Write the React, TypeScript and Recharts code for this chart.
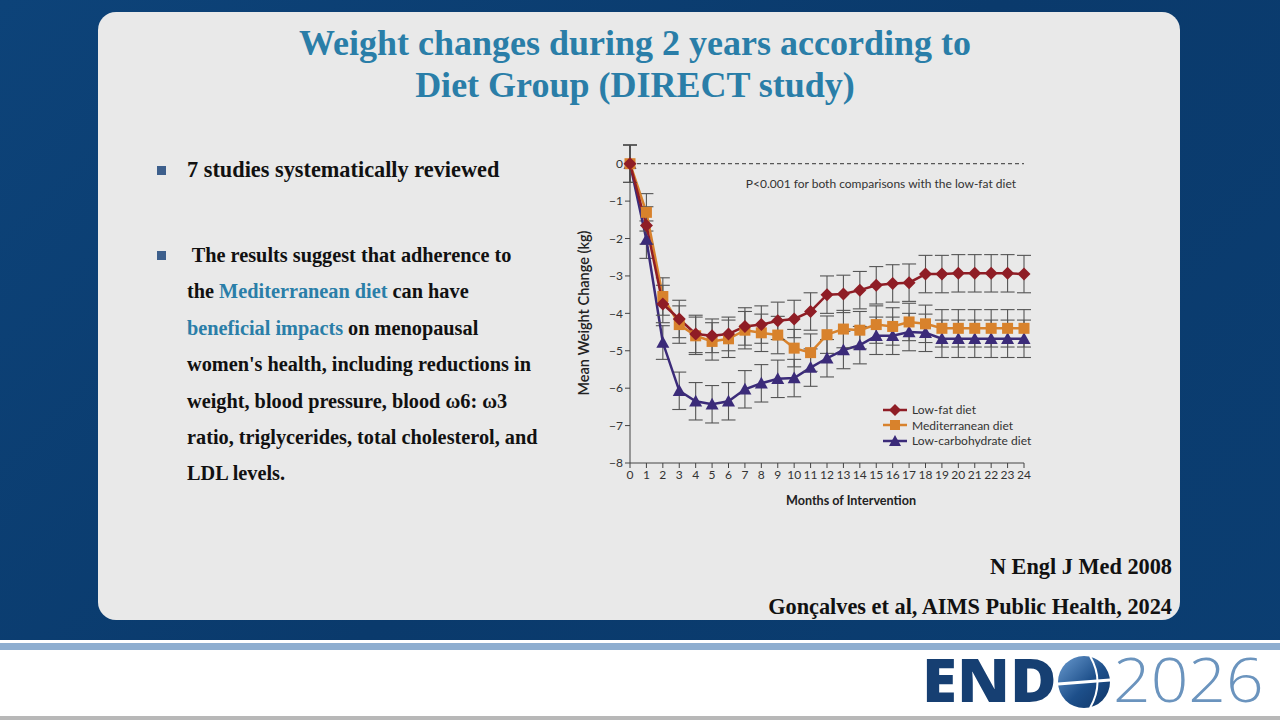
import React from 'react';
import {
  LineChart,
  Line,
  XAxis,
  YAxis,
  ReferenceLine,
  ErrorBar,
} from 'recharts';

// months of intervention (x categories / tick labels)
const months = [0, 1, 2, 3, 4, 5, 6, 7, 8, 9, 10, 11, 12, 13, 14, 15, 16, 17, 18, 19, 20, 21, 22, 23, 24];
const yTicks = [-8, -7, -6, -5, -4, -3, -2, -1, 0];

// mean weight change (kg)
const lowFat = [0, -1.65, -3.75, -4.15, -4.55, -4.6, -4.55, -4.35, -4.3, -4.2, -4.15, -3.95, -3.5, -3.48, -3.38, -3.25, -3.2, -3.18, -2.95, -2.95, -2.93, -2.93, -2.93, -2.93, -2.95];
const mediterranean = [0, -1.3, -3.55, -4.3, -4.6, -4.75, -4.68, -4.45, -4.52, -4.58, -4.93, -5.05, -4.57, -4.42, -4.45, -4.3, -4.35, -4.23, -4.28, -4.4, -4.4, -4.4, -4.4, -4.4, -4.4];
const lowCarb = [0, -2.03, -4.78, -6.07, -6.35, -6.43, -6.35, -6.03, -5.87, -5.75, -5.73, -5.45, -5.2, -4.98, -4.85, -4.6, -4.6, -4.5, -4.52, -4.68, -4.68, -4.68, -4.68, -4.68, -4.68];

// half-width of the error bars (kg)
const lowFatErr = [0.5, 0.5, 0.5, 0.5, 0.5, 0.45, 0.45, 0.5, 0.5, 0.5, 0.5, 0.5, 0.5, 0.5, 0.5, 0.5, 0.5, 0.5, 0.5, 0.5, 0.5, 0.5, 0.5, 0.5, 0.5];
const medErr = [0.5, 0.5, 0.5, 0.5, 0.5, 0.5, 0.5, 0.5, 0.5, 0.5, 0.5, 0.5, 0.5, 0.5, 0.5, 0.5, 0.5, 0.5, 0.5, 0.5, 0.5, 0.5, 0.5, 0.5, 0.5];
const lowCarbErr = [0.5, 0.5, 0.45, 0.5, 0.5, 0.5, 0.5, 0.5, 0.5, 0.5, 0.5, 0.5, 0.5, 0.5, 0.5, 0.5, 0.5, 0.5, 0.5, 0.5, 0.5, 0.5, 0.5, 0.5, 0.5];

const RED = '#8f1d25';
const ORANGE = '#d8822c';
const PURPLE = '#3b2b79';
const TEAL = '#2a7ea8';

const chartData = months.map((m, i) => ({
  month: m,
  lf: lowFat[i],
  lfErr: lowFatErr[i],
  med: mediterranean[i],
  medErr: medErr[i],
  lc: lowCarb[i],
  lcErr: lowCarbErr[i],
}));

const minus = (v: number) => String(v).replace('-', '\u2212');

const Diamond = (props: any) => {
  const { cx, cy, key } = props;
  const s = 6.5;
  return (
    <path
      key={key}
      d={`M${cx},${cy - s}L${cx + s},${cy}L${cx},${cy + s}L${cx - s},${cy}Z`}
      fill={RED}
    />
  );
};

const Square = (props: any) => {
  const { cx, cy, key } = props;
  const s = 5.5;
  return <rect key={key} x={cx - s} y={cy - s} width={s * 2} height={s * 2} fill={ORANGE} />;
};

const Triangle = (props: any) => {
  const { cx, cy, key } = props;
  const s = 6.5;
  return (
    <path
      key={key}
      d={`M${cx},${cy - s}L${cx + s},${cy + s * 0.8}L${cx - s},${cy + s * 0.8}Z`}
      fill={PURPLE}
    />
  );
};

const legendItems = [
  { label: 'Low-fat diet', color: RED, shape: 'diamond' },
  { label: 'Mediterranean diet', color: ORANGE, shape: 'square' },
  { label: 'Low-carbohydrate diet', color: PURPLE, shape: 'triangle' },
];

function LegendMarker({ shape, color }: { shape: string; color: string }) {
  return (
    <svg width={24} height={14} style={{ display: 'block' }}>
      <line x1={0} y1={7} x2={24} y2={7} stroke={color} strokeWidth={2.5} />
      {shape === 'diamond' && <path d="M12,1L18,7L12,13L6,7Z" fill={color} />}
      {shape === 'square' && <rect x={7} y={2} width={10} height={10} fill={color} />}
      {shape === 'triangle' && <path d="M12,1L18,12L6,12Z" fill={color} />}
    </svg>
  );
}

const serif = '"Liberation Serif", "Times New Roman", serif';
const sans = 'Lato, "Open Sans", sans-serif';
const logoFont = '"Open Sans", "Noto Sans", sans-serif';

export default function App() {
  const bodyLine: React.CSSProperties = {
    position: 'absolute',
    left: 187,
    height: 24,
    lineHeight: '24px',
    fontFamily: serif,
    fontWeight: 700,
    fontSize: 20.3,
    color: '#111',
    whiteSpace: 'pre',
  };
  const bodyLines = [
    [' The results suggest that adherence to'],
    ['the ', <span key="a" style={{ color: TEAL }}>Mediterranean diet</span>, ' can have'],
    [<span key="b" style={{ color: TEAL }}>beneficial impacts</span>, ' on menopausal'],
    ["women's health, including reductions in"],
    ['weight, blood pressure, blood \u03c96: \u03c93'],
    ['ratio, triglycerides, total cholesterol, and'],
    ['LDL levels.'],
  ];
  const refStyle: React.CSSProperties = {
    position: 'absolute',
    right: 1280 - 1172,
    height: 26,
    lineHeight: '26px',
    fontFamily: serif,
    fontWeight: 700,
    fontSize: 22.3,
    color: '#111',
    whiteSpace: 'nowrap',
  };
  const logoText: React.CSSProperties = {
    position: 'absolute',
    top: 638,
    height: 82,
    lineHeight: '82px',
    fontFamily: logoFont,
    fontSize: 60,
    whiteSpace: 'nowrap',
    transformOrigin: 'left center',
  };

  return (
    <div
      style={{
        position: 'relative',
        width: 1280,
        height: 720,
        overflow: 'hidden',
        background: 'linear-gradient(135deg, #0d4379 0%, #0a3a6c 50%, #0b3e72 100%)',
      }}
    >
      <style>{'body{margin:0}'}</style>

      {/* slide panel */}
      <div
        style={{
          position: 'absolute',
          left: 98,
          top: 12,
          width: 1082,
          height: 608,
          background: '#e9e9e9',
          borderRadius: 18,
        }}
      />

      {/* title */}
      <div
        style={{
          position: 'absolute',
          left: 98,
          top: 22,
          width: 1074,
          textAlign: 'center',
          fontFamily: serif,
          fontWeight: 700,
          fontSize: 36,
          lineHeight: '42px',
          color: TEAL,
        }}
      >
        Weight changes during 2 years according to
        <br />
        Diet Group (DIRECT study)
      </div>

      {/* bullets */}
      <div style={{ position: 'absolute', left: 157, top: 166, width: 9, height: 9, background: '#3d5f8c' }} />
      <div style={{ ...bodyLine, top: 158, fontSize: 22.3 }}>7 studies systematically reviewed</div>
      <div style={{ position: 'absolute', left: 157, top: 251, width: 9, height: 9, background: '#3d5f8c' }} />
      {bodyLines.map((parts, i) => (
        <div key={i} style={{ ...bodyLine, top: 243 + i * 36.4 }}>
          {parts}
        </div>
      ))}

      {/* chart */}
      <div style={{ position: 'absolute', left: 560, top: 130 }}>
        <LineChart
          width={490}
          height={390}
          data={chartData}
          margin={{ top: 15, right: 26, bottom: 37, left: 0 }}
        >
          <XAxis
            dataKey="month"
            type="number"
            domain={[0, 24]}
            ticks={months}
            interval={0}
            height={20}
            tickSize={5}
            tickMargin={2}
            stroke="#444"
            tick={{ fill: '#333', fontSize: 12, fontFamily: sans }}
          />
          <YAxis
            type="number"
            domain={[-8, 0.5]}
            ticks={yTicks}
            interval={0}
            width={70}
            tickSize={5}
            tickMargin={2}
            stroke="#444"
            tickFormatter={minus}
            tick={{ fill: '#333', fontSize: 12, fontFamily: sans }}
          />
          <ReferenceLine y={0} stroke="#333" strokeDasharray="4 3" strokeWidth={1} />
          <Line
            dataKey="lc"
            stroke={PURPLE}
            strokeWidth={2.5}
            dot={Triangle}
            activeDot={false}
            isAnimationActive={false}
          >
            <ErrorBar dataKey="lcErr" width={7} stroke="#555" strokeWidth={1.1} direction="y" />
          </Line>
          <Line
            dataKey="med"
            stroke={ORANGE}
            strokeWidth={2.5}
            dot={Square}
            activeDot={false}
            isAnimationActive={false}
          >
            <ErrorBar dataKey="medErr" width={7} stroke="#555" strokeWidth={1.1} direction="y" />
          </Line>
          <Line
            dataKey="lf"
            stroke={RED}
            strokeWidth={2.5}
            dot={Diamond}
            activeDot={false}
            isAnimationActive={false}
          >
            <ErrorBar dataKey="lfErr" width={7} stroke="#555" strokeWidth={1.1} direction="y" />
          </Line>
        </LineChart>
      </div>

      {/* axis titles and annotation */}
      <div
        style={{
          position: 'absolute',
          left: 583,
          top: 313,
          transform: 'translate(-50%, -50%) rotate(-90deg)',
          fontFamily: sans,
          fontWeight: 600,
          fontSize: 14.5,
          color: '#222',
          whiteSpace: 'nowrap',
        }}
      >
        Mean Weight Change (kg)
      </div>
      <div
        style={{
          position: 'absolute',
          left: 851,
          top: 500,
          transform: 'translate(-50%, -50%)',
          fontFamily: sans,
          fontWeight: 700,
          fontSize: 12.6,
          color: '#222',
          whiteSpace: 'nowrap',
        }}
      >
        Months of Intervention
      </div>
      <div
        style={{
          position: 'absolute',
          right: 1280 - 1016,
          top: 176,
          fontFamily: sans,
          fontSize: 12,
          color: '#333',
          whiteSpace: 'nowrap',
        }}
      >
        P&lt;0.001 for both comparisons with the low-fat diet
      </div>

      {/* legend */}
      <div style={{ position: 'absolute', left: 883, top: 402 }}>
        {legendItems.map((it) => (
          <div key={it.label} style={{ display: 'flex', alignItems: 'center', height: 15.5 }}>
            <LegendMarker shape={it.shape} color={it.color} />
            <span style={{ marginLeft: 5, fontFamily: sans, fontSize: 12, color: '#333' }}>{it.label}</span>
          </div>
        ))}
      </div>

      {/* references */}
      <div style={{ ...refStyle, top: 554 }}>N Engl J Med 2008</div>
      <div style={{ ...refStyle, top: 594 }}>Gonçalves et al, AIMS Public Health, 2024</div>

      {/* footer band */}
      <div style={{ position: 'absolute', left: 0, top: 640, width: 1280, height: 80, background: '#ffffff' }} />
      <div style={{ position: 'absolute', left: 0, top: 643, width: 1280, height: 7, background: '#8eaed0' }} />
      <div style={{ position: 'absolute', left: 0, top: 716, width: 1280, height: 4, background: '#b8b8b8' }} />

      {/* ENDO 2026 logo */}
      <div style={{ ...logoText, left: 922, fontWeight: 800, color: '#163f72', transform: 'scaleX(1.06)' }}>
        END
      </div>
      <svg width={54} height={54} style={{ position: 'absolute', left: 1057, top: 655 }}>
        <defs>
          <linearGradient id="globe" x1="0" y1="0" x2="1" y2="1">
            <stop offset="0%" stopColor="#6a9bd0" />
            <stop offset="55%" stopColor="#1d4f8a" />
            <stop offset="100%" stopColor="#0f3566" />
          </linearGradient>
        </defs>
        <circle cx={27} cy={27} r={26} fill="url(#globe)" />
        <path d="M1,29 L53,25" stroke="#fff" strokeWidth={3} />
        <path d="M33,1 Q48,27 33,53" stroke="#fff" strokeWidth={2} fill="none" />
      </svg>
      <div style={{ ...logoText, left: 1113, fontWeight: 300, color: '#6b94be', transform: 'scaleX(1.1)' }}>
        2026
      </div>
    </div>
  );
}
